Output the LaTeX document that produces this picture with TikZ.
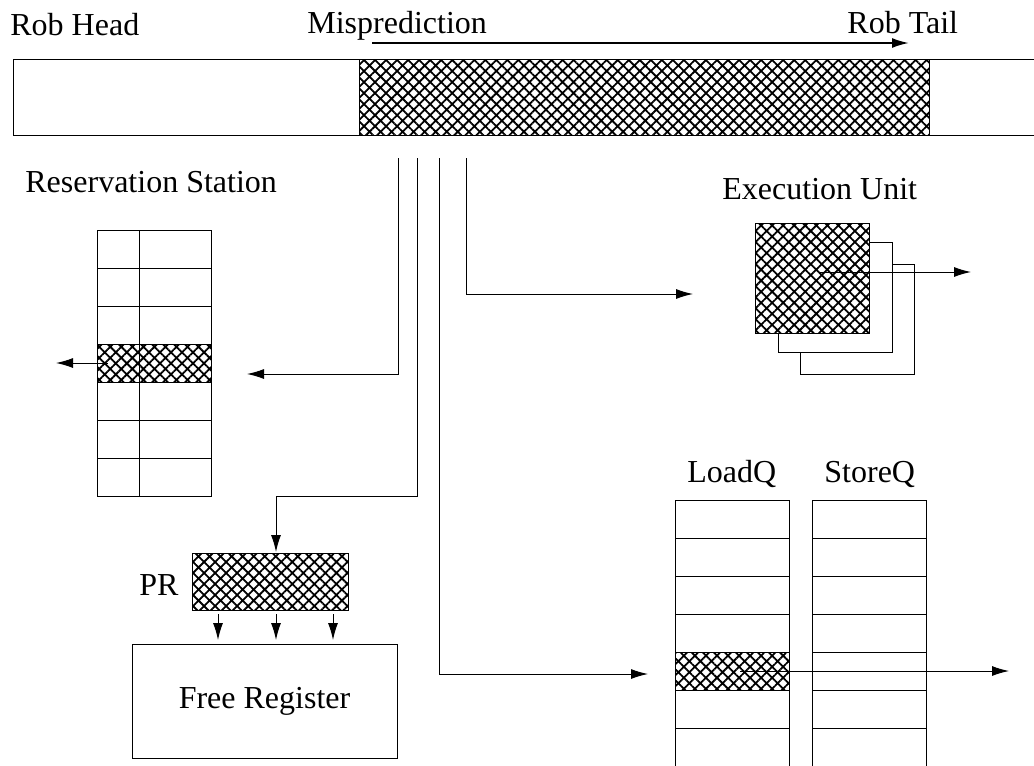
\documentclass[tikz,border=0pt]{standalone}
\usepackage{fontspec}
\setmainfont{Liberation Serif}
\usetikzlibrary{arrows.meta, patterns.meta}
\tikzset{
>={Latex[length=8.5pt,width=5pt]}, % filled arrow heads
box/.style={draw, line width=0.5pt, inner sep=0pt, outer sep=0pt, anchor=north west}, % plain rectangles, placed by their top left corner
hatched/.style={box, fill=white, postaction={pattern={Hatch[angle=45,distance=3.9pt,line width=0.9pt]}}}, % squashed entries
txt/.style={inner sep=0pt, anchor=base west}, % texts, placed by their baseline
flow/.style={->, line width=0.5pt}, % flush signals
}
\begin{document}
\begin{tikzpicture}[x=0.5pt, y=-0.5pt, font=\fontsize{16}{19}\selectfont]
\useasboundingbox (0,0) rectangle (1034,766);

% reorder buffer
\node[box, minimum width=513.5pt, minimum height=38pt] (rob) at (13,59) {};
\node[hatched, minimum width=285pt, minimum height=38pt] (robmis) at (359,59) {};
\node[txt] (robhead) at (10,35) {Rob Head};
\node[txt] (mispred) at (307,33) {Misprediction};
\node[txt] (robtail) at (847,33) {Rob Tail};
\coordinate (misfrom) at (372,43);
\coordinate (misto) at (909,43);
\draw[flow, line width=1pt] (misfrom) -- (misto);

% reservation station
\node[txt] (rstext) at (25,192) {Reservation Station};
\node[box, minimum width=57pt, minimum height=133pt] (rs) at (97,230) {};
\foreach \i in {1,...,6}
  \draw (rs.north west) ++(0,38*\i) -- ++(114,0);
\node[hatched, minimum width=57pt, minimum height=19pt] (rsmis) at (97,344) {};
\draw ([xshift=21pt]rs.north west) -- ([xshift=21pt]rs.south west);

% execution units
\node[txt] (eutext) at (722,199) {Execution Unit};
\node[box, fill=white, minimum width=57pt, minimum height=55pt] (eu3) at (800,264) {};
\node[box, fill=white, minimum width=57pt, minimum height=55pt] (eu2) at (778,242) {};
\node[hatched, minimum width=57pt, minimum height=55pt] (eu1) at (755,223) {};

% physical registers
\node[txt] (prtext) at (139,595) {PR};
\node[hatched, minimum width=78pt, minimum height=28.5pt] (pr) at (192,553) {};
\node[box, minimum width=132.5pt, minimum height=57pt] (fr) at (132,644) {Free Register};

% load and store queues
\node[txt] (lqtext) at (687,482) {LoadQ};
\node[txt] (sqtext) at (824,482) {StoreQ};
\node[box, minimum width=57pt, minimum height=134pt] (lq) at (675,500) {};
\node[box, minimum width=57pt, minimum height=134pt] (sq) at (812,500) {};
\foreach \q in {lq, sq}
  \foreach \i in {1,...,6}
    \draw (\q.north west) ++(0,38*\i) -- ++(114,0);
\node[hatched, minimum width=57pt, minimum height=19pt] (lqmis) at (675,652) {};

% flush signals
\coordinate (tap1) at (398,158);
\coordinate (tap2) at (417,158);
\coordinate (tap3) at (439,158);
\coordinate (tap4) at (466,158);
\coordinate (rsin) at (247,374);
\coordinate (prin) at (276,552);
\coordinate (lqin) at (648,674);
\coordinate (euin) at (693,294);
\draw[flow] (tap1) |- (rsin);
\draw[flow] (tap2) -- (tap2 |- rs.south) -| (prin);
\draw[flow] (tap3) |- (lqin);
\draw[flow] (tap4) |- (euin);

% outputs
\coordinate (eufrom) at (820,272);
\coordinate (euout) at (971,272);
\coordinate (lqfrom) at (740,671);
\coordinate (lqout) at (1009,671);
\draw[flow] ([xshift=5.5pt]rsmis.west) -- ([xshift=-20.5pt]rsmis.west);
\draw[flow] (eufrom) -- (euout);
\draw[flow] (lqfrom) -- (lqout);
\foreach \x in {218,276,333}
  \draw[flow] ([yshift=-2pt]pr.south -| \x,0) -- ([yshift=2pt]fr.north -| \x,0);
\end{tikzpicture}
\end{document}
